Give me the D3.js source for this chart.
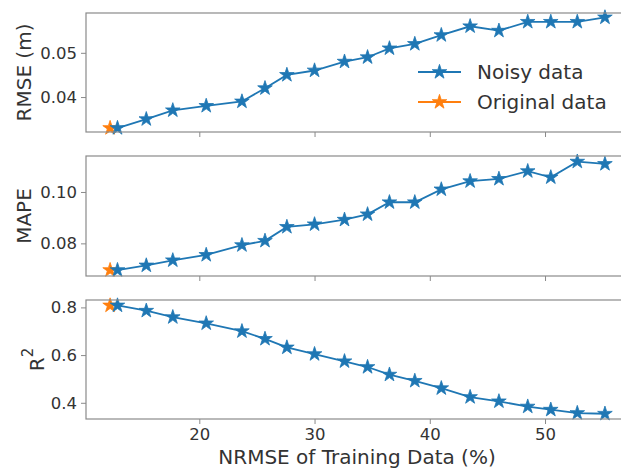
<!DOCTYPE html>
<html>
<head>
<meta charset="utf-8">
<script src="https://cdn.jsdelivr.net/npm/d3@7"></script>
<style>
  body { margin: 0; background: #fff; }
  svg { display: block; font-family: "DejaVu Sans", sans-serif; }
</style>
</head>
<body>
<div id="chart"></div>
<script>
// noisy training data: NRMSE of training data (%)
const noisyX = [12.9, 15.4, 17.7, 20.6, 23.7, 25.7, 27.6, 30.0, 32.6, 34.6, 36.5, 38.7, 41.0, 43.5, 46.0, 48.5, 50.5, 52.8, 55.2];
const noisyRmse = [0.033, 0.035, 0.037, 0.038, 0.039, 0.042, 0.045, 0.046, 0.048, 0.049, 0.051, 0.052, 0.054, 0.056, 0.055, 0.057, 0.057, 0.057, 0.058];
const noisyMape = [0.0696, 0.0714, 0.0734, 0.0755, 0.0793, 0.0810, 0.0864, 0.0874, 0.0892, 0.0913, 0.0960, 0.0960, 0.1010, 0.1042, 0.1051, 0.1081, 0.1057, 0.1118, 0.1109];
const noisyR2 = [0.808, 0.786, 0.759, 0.733, 0.700, 0.668, 0.632, 0.604, 0.574, 0.550, 0.518, 0.492, 0.461, 0.424, 0.406, 0.384, 0.371, 0.357, 0.354];

// original data (single point)
const originalX = [12.26];
const originalRmse = [0.033];
const originalMape = [0.0696];
const originalR2 = [0.808];

const xTicks = [20, 30, 40, 50];
const rmseTicks = [0.04, 0.05];
const mapeTicks = [0.08, 0.10];
const r2Ticks = [0.4, 0.6, 0.8];

const width = 621;
const height = 468;
const blue = '#1f77b4';
const orange = '#ff7f0e';
const spine = '#8a8a8a';
const textColor = '#333';

const svg = d3.select('#chart')
  .append('svg')
  .attr('width', width)
  .attr('height', height);

const x = d3.scaleLinear()
  .domain([10.168, 56.94])
  .range([86, 625]);

const panels = [
  { label: 'RMSE (m)', top: 13, bottom: 132, domain: [0.0321, 0.0590], ticks: rmseTicks, fmt: d3.format('.2f'),
    noisy: noisyRmse, original: originalRmse, legend: true },
  { label: 'MAPE', top: 156, bottom: 276, domain: [0.0673, 0.1140], ticks: mapeTicks, fmt: d3.format('.2f'),
    noisy: noisyMape, original: originalMape },
  { label: 'R2', top: 300, bottom: 419, domain: [0.332, 0.831], ticks: r2Ticks, fmt: d3.format('.1f'),
    noisy: noisyR2, original: originalR2, xLabels: true }
];

const star = d3.symbol().type(d3.symbolStar).size(66);

panels.forEach(p => {
  const y = d3.scaleLinear().domain(p.domain).range([p.bottom, p.top]);
  const g = svg.append('g');

  // y axis
  const yAxis = g.append('g')
    .attr('transform', `translate(${x.range()[0]},0)`)
    .call(d3.axisLeft(y).tickValues(p.ticks).tickFormat(p.fmt).tickSize(5).tickPadding(4).tickSizeOuter(0));
  yAxis.select('.domain').remove();
  yAxis.selectAll('line').attr('stroke', spine);
  yAxis.selectAll('text').attr('fill', textColor).style('font-size', '16.5px')
    .style('font-family', '"DejaVu Sans", sans-serif');

  // x axis
  const xAxis = g.append('g')
    .attr('transform', `translate(0,${p.bottom})`)
    .call(d3.axisBottom(x).tickValues(xTicks).tickFormat(p.xLabels ? d3.format('d') : '').tickSize(5).tickPadding(4).tickSizeOuter(0));
  xAxis.select('.domain').remove();
  xAxis.selectAll('line').attr('stroke', spine);
  xAxis.selectAll('text').attr('fill', textColor).style('font-size', '16.5px')
    .style('font-family', '"DejaVu Sans", sans-serif');

  const line = d3.line()
    .x(d => x(d[0]))
    .y(d => y(d[1]));

  const orig = originalX.map((v, i) => [v, p.original[i]]);
  const noisy = noisyX.map((v, i) => [v, p.noisy[i]]);

  g.append('path')
    .datum(orig)
    .attr('d', line)
    .attr('fill', 'none')
    .attr('stroke', orange)
    .attr('stroke-width', 1.8);
  g.selectAll('.orig')
    .data(orig)
    .enter()
    .append('path')
    .attr('transform', d => `translate(${x(d[0])},${y(d[1])})`)
    .attr('d', star)
    .attr('fill', orange)
    .attr('stroke', orange)
    .attr('stroke-width', 0.8)
    .attr('stroke-linejoin', 'round');

  g.append('path')
    .datum(noisy)
    .attr('d', line)
    .attr('fill', 'none')
    .attr('stroke', blue)
    .attr('stroke-width', 1.8);
  g.selectAll('.noisy')
    .data(noisy)
    .enter()
    .append('path')
    .attr('transform', d => `translate(${x(d[0])},${y(d[1])})`)
    .attr('d', star)
    .attr('fill', blue)
    .attr('stroke', blue)
    .attr('stroke-width', 0.8)
    .attr('stroke-linejoin', 'round');

  // frame
  g.append('rect')
    .attr('x', x.range()[0])
    .attr('y', p.top)
    .attr('width', x.range()[1] - x.range()[0])
    .attr('height', p.bottom - p.top)
    .attr('fill', 'none')
    .attr('stroke', spine)
    .attr('stroke-width', 1.2);

  // y label
  const cy = (p.top + p.bottom) / 2;
  const lab = g.append('text')
    .attr('transform', `translate(${p.label === 'R2' ? 37 : 24},${cy}) rotate(-90)`)
    .attr('text-anchor', 'middle')
    .attr('dominant-baseline', 'central')
    .attr('fill', textColor)
    .style('font-size', '20px');
  if (p.label === 'R2') {
    lab.append('tspan').text('R');
    lab.append('tspan').attr('dy', -9).style('font-size', '15px').text('2');
  } else {
    lab.text(p.label);
  }

  if (p.legend) {
    const items = [
      { name: 'Noisy data', color: blue, y: 72 },
      { name: 'Original data', color: orange, y: 102 }
    ];
    const lg = g.append('g');
    items.forEach(it => {
      lg.append('line')
        .attr('x1', 418).attr('x2', 461)
        .attr('y1', it.y).attr('y2', it.y)
        .attr('stroke', it.color).attr('stroke-width', 1.8);
      lg.append('path')
        .attr('transform', `translate(439.5,${it.y})`)
        .attr('d', star)
        .attr('fill', it.color)
        .attr('stroke', it.color)
        .attr('stroke-width', 0.8)
        .attr('stroke-linejoin', 'round');
      lg.append('text')
        .attr('x', 477)
        .attr('y', it.y)
        .attr('dominant-baseline', 'central')
        .attr('fill', textColor)
        .style('font-size', '20px')
        .text(it.name);
    });
  }
});

// x label
svg.append('text')
  .attr('x', (215 + 499) / 2)
  .attr('y', 457)
  .attr('text-anchor', 'middle')
  .attr('dominant-baseline', 'central')
  .attr('fill', textColor)
  .style('font-size', '20px')
  .text('NRMSE of Training Data (%)');
</script>
</body>
</html>
